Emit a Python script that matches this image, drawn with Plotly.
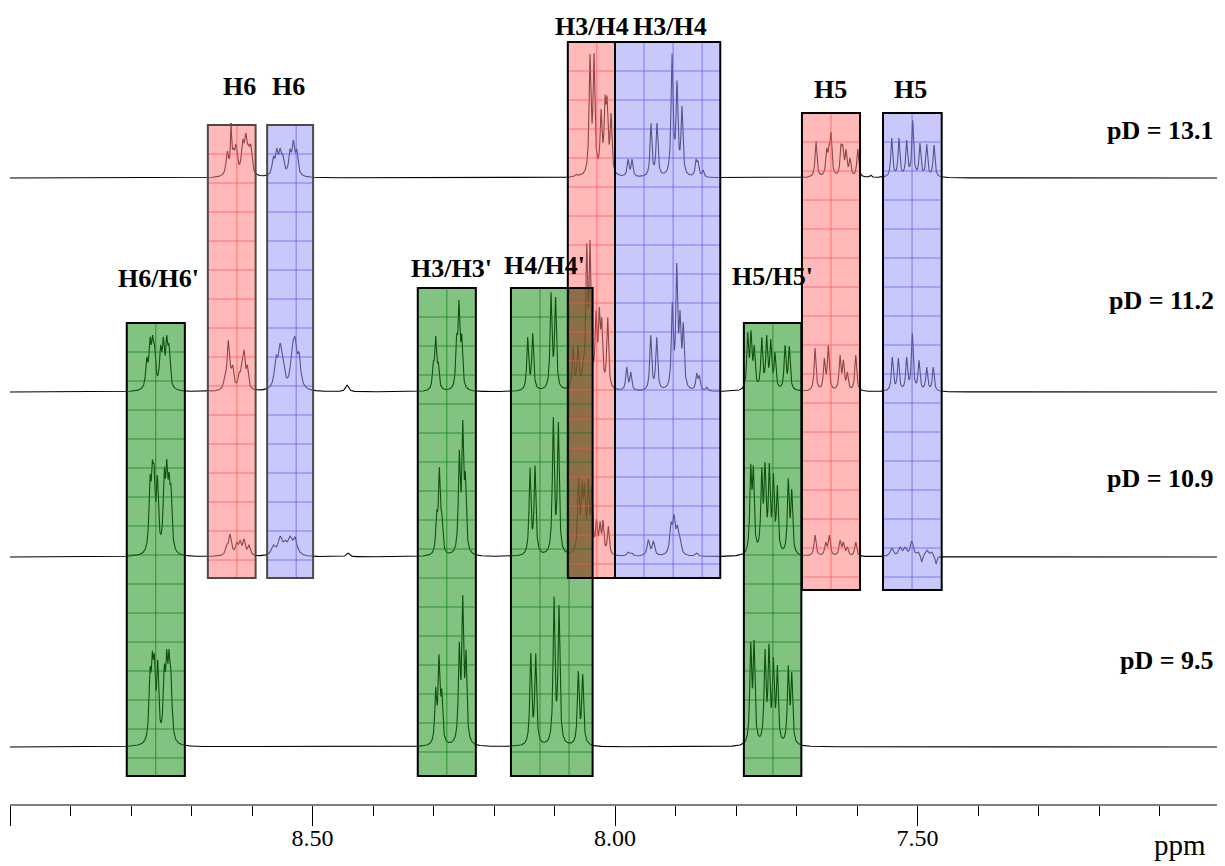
import numpy as np
import plotly.graph_objects as go

# ---------------- data: peak lists (ppm, intensity, half-width) ----------------
# pD = 13.1
s1_ppm = [8.6408, 8.6347, 8.6309, 8.6264, 8.6154, 8.6104, 8.6061, 8.6021,
          8.5648, 8.5592, 8.5537, 8.5493, 8.5372, 8.5317, 8.5261,
          8.0645, 8.0579, 8.0413, 8.0347, 8.0231, 8.0165, 8.0132, 8.0066,
          7.9785, 7.9719, 7.9405, 7.9306, 7.9058, 7.9025, 7.8975, 7.8893, 7.8661, 7.8628, 7.8545,
          7.6678, 7.6501, 7.6463, 7.6430, 7.6264, 7.6236, 7.6182, 7.6116, 7.5988, 7.5774,
          7.5426, 7.5306, 7.5179, 7.5079, 7.4959, 7.4848, 7.4727]
s1_int = [27, 55, 30, 34, 39, 45, 34, 34,
          22, 30, 30, 24, 29, 38, 29,
          4, 4, 124, 125, 69, 83, 82, 65,
          19, 19, 55, 55, 125, 45, 98, 72, 19, 17, 8,
          37, 30, 34, 46, 34, 33, 29, 20, 29, 3,
          40, 40, 38, 58, 35, 34, 33]
s1_hw = [0.0025, 0.0012, 0.0025, 0.0025, 0.0025, 0.0025, 0.0025, 0.0025,
         0.0025, 0.0025, 0.0025, 0.0025, 0.0025, 0.0025, 0.0025,
         0.0018, 0.0018, 0.0018, 0.0018, 0.0018, 0.0018, 0.0018, 0.0018,
         0.0018, 0.0018, 0.0018, 0.0018, 0.0018, 0.0018, 0.0018, 0.0018, 0.0018, 0.0018, 0.0018,
         0.0018, 0.0018, 0.0018, 0.0018, 0.0018, 0.0018, 0.0018, 0.0018, 0.0018, 0.0018,
         0.0018, 0.0018, 0.0018, 0.0018, 0.0018, 0.0018, 0.0018]

# pD = 11.2
s2_ppm = [8.7740, 8.7686, 8.7645, 8.7612, 8.7512, 8.7466, 8.7410, 8.7372,
          8.6446, 8.6392, 8.6352, 8.6319, 8.6215, 8.6170, 8.6132, 8.6078,
          8.5603, 8.5537, 8.5493, 8.5334, 8.5289, 8.5223, 8.4430,
          8.3003, 8.2964, 8.2921, 8.2617, 8.2579, 8.2534,
          8.1443, 8.1360, 8.1058, 8.0983, 8.0694, 8.0612,
          8.0529, 8.0468, 8.0413, 8.0314, 8.0260, 8.0220, 8.0121,
          7.9807, 7.9740, 7.9410, 7.9311, 7.9053, 7.8980, 7.8926, 7.8871, 7.8650, 7.8607, 7.8484,
          7.7807, 7.7752, 7.7698, 7.7575, 7.7493, 7.7426, 7.7355, 7.7190, 7.7119,
          7.6694, 7.6540, 7.6474, 7.6281, 7.6226, 7.6160, 7.6021,
          7.5416, 7.5317, 7.5179, 7.5086, 7.4975, 7.4848, 7.4739]
s2_int = [35, 55, 57, 48, 47, 55, 57, 48,
          20, 52, 25, 27, 20, 30, 42, 27,
          37, 49, 37, 50, 55, 40, 7,
          31, 56, 30, 58, 92, 58,
          55, 59, 100, 95, 45, 47,
          29, 149, 152, 82, 85, 75, 75,
          25, 20, 57, 55, 90, 129, 82, 70, 19, 17, 5,
          60, 62, 47, 55, 57, 53, 40, 47, 46,
          44, 34, 47, 37, 32, 20, 37,
          35, 34, 35, 59, 32, 25, 25]
s2_hw = [0.0021] * 8 + [0.0022] * 8 + [0.0033] * 6 + [0.003] + [0.0018] * 6 + \
        [0.0018] * 6 + [0.0018] * 7 + [0.0018] * 11 + [0.0018] * 9 + [0.0018] * 7 + [0.0018] * 7

# pD = 10.9
s3_ppm = [8.7686, 8.7648, 8.7620, 8.7565, 8.7450, 8.7410, 8.7372, 8.7339,
          8.6418, 8.6364, 8.6326, 8.6253, 8.6198, 8.6132, 8.6050,
          8.5648, 8.5537, 8.5455, 8.5372, 8.5289, 8.5207, 8.4413,
          8.2947, 8.2904, 8.2864, 8.2574, 8.2517, 8.2474,
          8.1405, 8.1322, 8.1020, 8.0937, 8.0603, 8.0545, 8.0504, 8.0441, 8.0385,
          8.0306, 8.0248, 8.0198, 8.0111,
          7.9780, 7.9724, 7.9450, 7.9367, 7.9074, 7.9025, 7.8970, 7.8926, 7.8650,
          7.7757, 7.7714, 7.7575, 7.7521, 7.7450, 7.7383, 7.7317, 7.7136, 7.7079,
          7.6694, 7.6517, 7.6458, 7.6281, 7.6226, 7.6160, 7.6021,
          7.5426, 7.5289, 7.5207, 7.5096, 7.4987, 7.4931, 7.4848, 7.4765, 7.4694]
s3_int = [82, 97, 93, 82, 90, 98, 85, 72,
          13, 23, 10, 15, 17, 18, 12,
          12, 21, 17, 21, 20, 5, 4,
          47, 90, 45, 107, 137, 85,
          90, 92, 140, 135, 80, 76, 75, 79, 70,
          38, 36, 37, 31,
          5, 4, 17, 16, 35, 43, 32, 20, 4,
          93, 92, 90, 95, 94, 84, 72, 79, 68,
          22, 15, 22, 17, 15, 10, 15,
          9, 10, 10, 16, 5, -5, 7, 5, -7]
s3_hw = [0.0020] * 8 + [0.0025] * 7 + [0.0040] * 6 + [0.003] + [0.0018] * 6 + \
        [0.0018] * 9 + [0.0018] * 4 + [0.0025] * 9 + [0.0018] * 9 + [0.0020] * 7 + \
        [0.0030, 0.0030, 0.0030, 0.0030, 0.0030, 0.0015, 0.0030, 0.0030, 0.0015]

# pD = 9.5
s4_ppm = [8.7686, 8.7648, 8.7615, 8.7559, 8.7450, 8.7410, 8.7372, 8.7339,
          8.2964, 8.2909, 8.2864, 8.2574, 8.2517, 8.2463,
          8.1393, 8.1311, 8.1008, 8.0926, 8.0607, 8.0534, 8.0441,
          7.7757, 7.7702, 7.7521, 7.7455, 7.7383, 7.7317, 7.7136, 7.7079]
s4_int = [80, 96, 93, 87, 83, 98, 98, 76,
          60, 93, 58, 105, 152, 97,
          94, 94, 151, 142, 76, 73, 5,
          105, 107, 98, 104, 90, 82, 82, 75]
s4_hw = [0.0020] * 8 + [0.0018] * 6 + [0.0018] * 7 + [0.0018] * 8

spectra_ppm = [s1_ppm, s2_ppm, s3_ppm, s4_ppm]
spectra_int = [s1_int, s2_int, s3_int, s4_int]
spectra_hw = [s1_hw, s2_hw, s3_hw, s4_hw]
offsets = [626, 412, 247, 57]
pd_labels = ["pD = 13.1", "pD = 11.2", "pD = 10.9", "pD = 9.5"]
pd_label_y = [674, 504, 326, 144]

# highlighted regions
box_x0 = [8.807, 8.673, 8.575, 8.326, 8.172, 8.078, 8.000, 7.787, 7.691, 7.557]
box_x1 = [8.711, 8.594, 8.499, 8.230, 8.037, 8.000, 7.826, 7.692, 7.595, 7.460]
box_y0 = [28, 226, 226, 28, 28, 226, 226, 28, 214, 214]
box_y1 = [481, 679, 679, 516, 516, 762, 762, 481, 691, 691]
box_kind = ["g", "r", "b", "g", "g", "r", "b", "g", "r", "b"]
box_label = ["H6/H6'", "H6", "H6", "H3/H3'", "H4/H4'", "H3/H4", "H3/H4", "H5/H5'", "H5", "H5"]
label_x = [8.754, 8.620, 8.539, 8.270, 8.116, 8.038, 7.909, 7.739, 7.643, 7.512]
label_y = [526, 718, 718, 536, 539, 778, 778, 528, 715, 715]

tick_vals = [9.0, 8.5, 8.0, 7.5]
tick_text = ["", "8.50", "8.00", "7.50"]

# ---------------- styles ----------------
FILL = {"g": "rgb(28,146,28)", "r": "rgb(255,128,128)", "b": "rgb(155,155,246)"}
GRID = {"g": "rgba(20,130,20,0.75)", "r": "rgba(255,80,80,0.7)", "b": "rgba(90,90,240,0.7)"}
BORDER = ["black", "#4a4a4a", "#4a4a4a", "black", "black", "black", "black", "black", "black", "black"]
FILL_OPACITY = 0.55
GRID_DX = 0.048
GRID_DY = 29
SERIF = "Liberation Serif, Times New Roman, serif"

xs = np.linspace(9.0, 7.0, 6001)


def lor(x, x0, w):
    return 1.0 / (1.0 + ((x - x0) / w) ** 2)


def spectrum(ppm, inten, hw):
    p = np.asarray(ppm, float)
    h = np.asarray(inten, float)
    w = np.asarray(hw, float)
    A = lor(p[:, None], p[None, :], w[None, :])
    amp = np.linalg.solve(A, h)
    return (amp[None, :] * lor(xs[:, None], p[None, :], w[None, :])).sum(axis=1)


fig = go.Figure()
for ppm, inten, hw, off in zip(spectra_ppm, spectra_int, spectra_hw, offsets):
    fig.add_trace(go.Scatter(x=xs, y=spectrum(ppm, inten, hw) + off, mode="lines",
                             line=dict(color="black", width=1.1), hoverinfo="skip",
                             showlegend=False))

shapes = []
order = [i for i in range(len(box_kind)) if box_kind[i] == "g"] + \
        [i for i in range(len(box_kind)) if box_kind[i] != "g"]
for i in order:
    shapes.append(dict(type="rect", xref="x", yref="y", x0=box_x0[i], x1=box_x1[i],
                       y0=box_y0[i], y1=box_y1[i], fillcolor=FILL[box_kind[i]],
                       opacity=FILL_OPACITY, line=dict(width=0), layer="above"))
# overlapping regions of different boxes (darker mix)
for i in range(len(box_kind)):
    for j in range(i + 1, len(box_kind)):
        if box_kind[i] == box_kind[j]:
            continue
        hi = min(box_x0[i], box_x0[j])
        lo = max(box_x1[i], box_x1[j])
        top = min(box_y1[i], box_y1[j])
        bot = max(box_y0[i], box_y0[j])
        if hi - lo > 1e-6 and top > bot:
            shapes.append(dict(type="rect", xref="x", yref="y", x0=hi, x1=lo, y0=bot, y1=top,
                               fillcolor="rgb(70,50,0)", opacity=0.45, line=dict(width=0),
                               layer="above"))
# grid inside each box
for i in range(len(box_kind)):
    k = box_kind[i]
    gx = box_x0[i] - GRID_DX
    while gx > box_x1[i] + 0.005:
        shapes.append(dict(type="line", xref="x", yref="y", x0=gx, x1=gx, y0=box_y0[i],
                           y1=box_y1[i], line=dict(color=GRID[k], width=1), layer="above"))
        gx -= GRID_DX
    gy = box_y1[i] - GRID_DY
    while gy > box_y0[i] + 5:
        shapes.append(dict(type="line", xref="x", yref="y", x0=box_x0[i], x1=box_x1[i],
                           y0=gy, y1=gy, line=dict(color=GRID[k], width=1), layer="above"))
        gy -= GRID_DY
for i in range(len(box_kind)):
    shapes.append(dict(type="rect", xref="x", yref="y", x0=box_x0[i], x1=box_x1[i],
                       y0=box_y0[i], y1=box_y1[i], fillcolor="rgba(0,0,0,0)",
                       line=dict(color=BORDER[i], width=2), layer="above"))

annotations = []
for t, lx, ly in zip(box_label, label_x, label_y):
    annotations.append(dict(x=lx, y=ly, xref="x", yref="y", text="<b>%s</b>" % t,
                            showarrow=False, xanchor="center", yanchor="middle",
                            font=dict(family=SERIF, size=26, color="black")))
for t, ly in zip(pd_labels, pd_label_y):
    annotations.append(dict(x=0.9967, y=ly, xref="paper", yref="y", text="<b>%s</b>" % t,
                            showarrow=False, xanchor="right", yanchor="middle",
                            font=dict(family=SERIF, size=26, color="black")))
annotations.append(dict(x=0.967, y=-0.051, xref="paper", yref="paper", text="ppm",
                        showarrow=False, xanchor="center", yanchor="middle",
                        font=dict(family=SERIF, size=29, color="black")))

# the page adds an 8 px body margin, so the figure is 8 px smaller than the window
fig.update_layout(
    width=1217, height=858,
    margin=dict(l=2, r=5, t=0, b=62),
    paper_bgcolor="white", plot_bgcolor="white",
    shapes=shapes, annotations=annotations, showlegend=False,
    xaxis=dict(range=[9.0, 7.0], showgrid=False, zeroline=False, showline=True,
               linecolor="#808080", linewidth=2, ticks="outside", ticklen=20, tickwidth=1,
               tickcolor="black", tickvals=tick_vals, ticktext=tick_text,
               tickfont=dict(family=SERIF, size=24, color="black"),
               minor=dict(dtick=0.1, tick0=7.0, ticks="outside", ticklen=10, tickwidth=1,
                          tickcolor="black", showgrid=False)),
    yaxis=dict(range=[0, 796], visible=False, fixedrange=True),
)
try:
    fig.update_xaxes(ticklabelstandoff=-9)
except Exception:
    pass

fig.write_html("out.html")
